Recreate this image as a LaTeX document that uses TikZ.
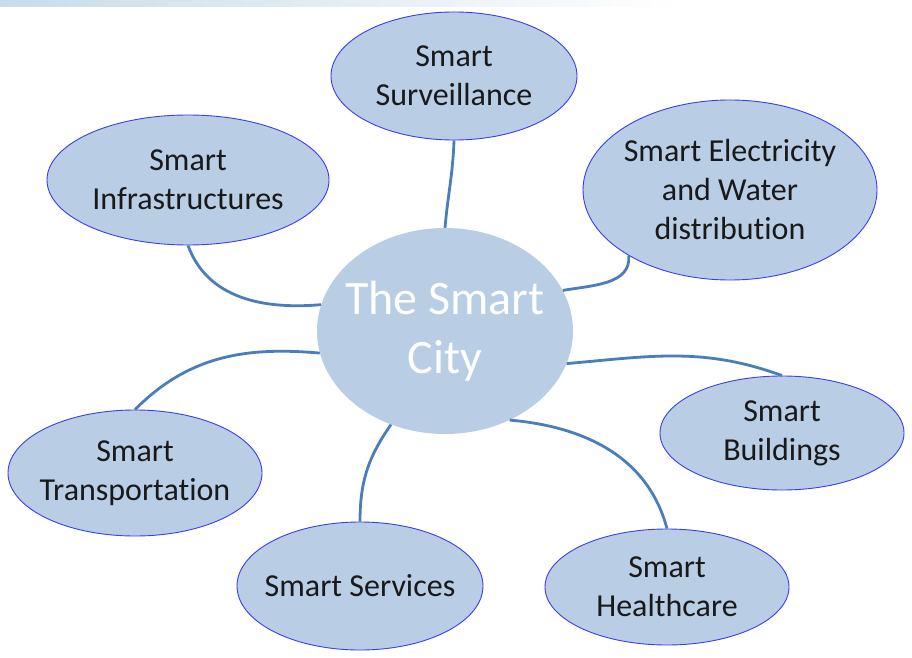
\documentclass[tikz,border=0pt]{standalone}
\usepackage{fontspec}
\setmainfont[Ligatures=NoCommon]{Carlito}
\usetikzlibrary{shapes.geometric}
\definecolor{bubble}{HTML}{B9CDE5}
\definecolor{rim}{HTML}{3C3CF0}
\definecolor{wire}{HTML}{4A7EBB}
\definecolor{topbar}{HTML}{C8DCEA}
\begin{document}
\begin{tikzpicture}[
      x=1pt, y=1pt,
      leaf/.style={ellipse, draw=rim, line width=0.9pt, fill=bubble, inner sep=-20pt, align=center,
        text=black!90, font=\fontsize{32}{39}\selectfont},
      hub/.style={ellipse, fill=bubble, inner sep=-20pt, align=center, text=white,
        font=\fontsize{48}{59}\selectfont},
      link/.style={draw=wire, line width=2.8pt}
      ]
      \useasboundingbox (0,0) rectangle (912,657);
      \shade[left color=topbar, right color=white] (0,650) rectangle (680,657);
      % the hub and its bubbles
      \node[hub, minimum width=256, minimum height=206] (city) at (445,326) {The Smart\\City};
      \node[leaf, minimum width=246, minimum height=128] (surv) at (454,581) {Smart\\Surveillance};
      \node[leaf, minimum width=282, minimum height=130] (infra) at (188,477) {Smart\\Infrastructures};
      \node[leaf, minimum width=294, minimum height=180] (elec) at (730,467) {Smart Electricity\\and Water\\distribution};
      \node[leaf, minimum width=244, minimum height=114] (build) at (782,224) {Smart\\Buildings};
      \node[leaf, minimum width=244, minimum height=116] (health) at (667,70) {Smart\\Healthcare};
      \node[leaf, minimum width=246, minimum height=128] (serv) at (360,71) {Smart Services};
      \node[leaf, minimum width=254, minimum height=126] (trans) at (135,184) {Smart\\Transportation};
      % links
      \draw[link] (surv.south) to[out=-92, in=85] (city.north);
      \draw[link] (infra.south) to[out=-70, in=185] (city.168);
      \draw[link] (elec.213) to[out=-85, in=10] (city.19);
      \draw[link] (trans.north) to[out=45, in=175] (city.190);
      \draw[link] (city.345) to[out=5, in=160] (build.north);
      \draw[link] (serv.north) to[out=90, in=235] (city.240);
      \draw[link] (city.306) to[out=-5, in=105] (health.north);
\end{tikzpicture}
\end{document}
